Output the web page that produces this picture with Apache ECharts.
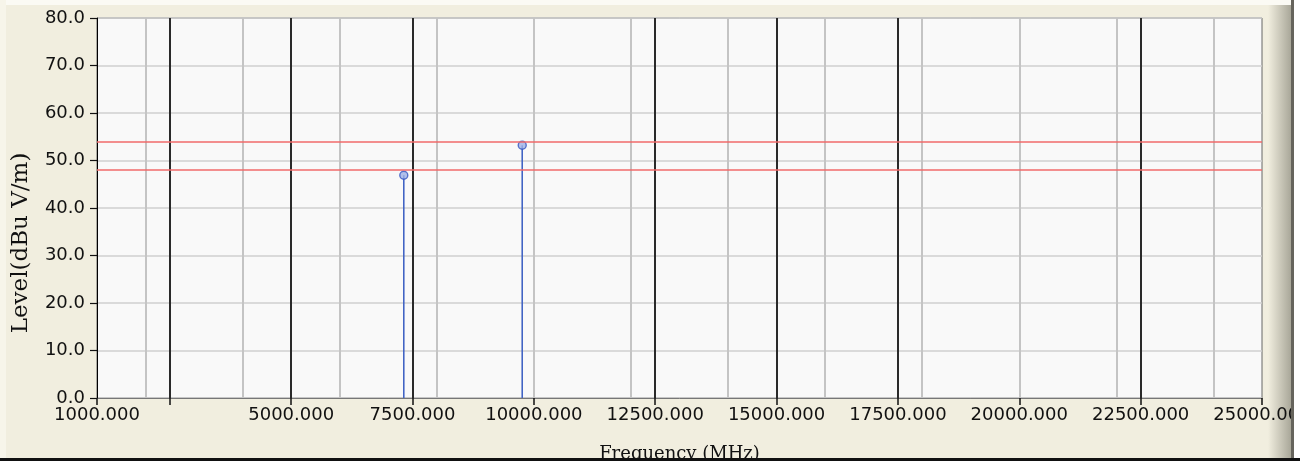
<!DOCTYPE html>
<html><head><meta charset="utf-8">
<script src="https://cdn.jsdelivr.net/npm/echarts@6/dist/echarts.min.js"></script>
<style>html,body{margin:0;padding:0;background:#f1eedf}#c{width:1300px;height:461px}</style>
</head><body><div id="c"></div>
<script>
const freqs = [7320, 9760];
const levels = [46.9, 53.2];
const limitLines = [54, 48];
const xLabelValues = [1000, 5000, 7500, 10000, 12500, 15000, 17500, 20000, 22500, 25000];
const xTickValues = [1000, 2500, 5000, 7500, 10000, 12500, 15000, 17500, 20000, 22500, 25000];
const majorGrid = [2500, 5000, 7500, 12500, 15000, 17500, 22500];
const minorGrid = [2000, 4000, 6000, 8000, 10000, 12000, 14000, 16000, 18000, 20000, 22000, 24000];

const chart = echarts.init(document.getElementById('c'));
const vline = v => ({xAxis: v});
chart.setOption({
  animation: false,
  backgroundColor: '#f1eedf',
  grid: {left: 97, right: 38, top: 18, bottom: 63, containLabel: false, outerBoundsMode: 'none',
    show: true, backgroundColor: '#f9f9f9', borderColor: '#666', borderWidth: 1},
  xAxis: {
    type: 'value', min: 1000, max: 25000,
    name: 'Frequency (MHz)', nameLocation: 'middle', nameGap: 47,
    nameTextStyle: {fontFamily: 'DejaVu Serif', fontSize: 18, color: '#111'},
    axisLine: {lineStyle: {color: '#777', width: 1}},
    axisTick: {show: true, length: 7, customValues: xTickValues, lineStyle: {color: '#111', width: 1.5}},
    axisLabel: {customValues: xLabelValues, margin: 8, fontFamily: 'DejaVu Sans', fontSize: 18, color: '#111',
      formatter: v => v.toFixed(3), showMinLabel: true, showMaxLabel: true, hideOverlap: false},
    splitLine: {show: false}
  },
  yAxis: {
    type: 'value', min: 0, max: 80, interval: 10,
    axisLine: {show: true, lineStyle: {color: '#000', width: 1}},
    axisTick: {show: true, length: 7, lineStyle: {color: '#111', width: 1.2}},
    axisLabel: {margin: 12, fontFamily: 'DejaVu Sans', fontSize: 18, color: '#111', formatter: v => v.toFixed(1)},
    splitLine: {show: true, lineStyle: {color: '#cfcfcf', width: 1.5}}
  },
  series: [
    {type: 'scatter', data: [], silent: true,
      markLine: {silent: true, symbol: ['none', 'none'], label: {show: false}, animation: false,
        lineStyle: {color: '#c4c4c4', width: 2, type: 'solid'}, data: minorGrid.map(vline)}},
    {type: 'scatter', data: [], silent: true,
      markLine: {silent: true, symbol: ['none', 'none'], label: {show: false}, animation: false,
        lineStyle: {color: '#2a2a2a', width: 2, type: 'solid'}, data: majorGrid.map(vline)}},
    {type: 'scatter', data: [], silent: true,
      markLine: {silent: true, symbol: ['none', 'none'], label: {show: false}, animation: false,
        lineStyle: {color: '#f06a6a', width: 1.6, type: 'solid'}, data: limitLines.map(v => ({yAxis: v}))}},
    {type: 'bar', barWidth: 1.6, itemStyle: {color: '#4264c4'}, silent: true,
      data: freqs.map((f, i) => [f, levels[i]])},
    {type: 'scatter', symbol: 'circle', symbolSize: 8, silent: true,
      itemStyle: {color: '#9fb2e6', borderColor: '#3656c0', borderWidth: 1.4},
      data: freqs.map((f, i) => [f, levels[i]])}
  ],
  graphic: [
    {type: 'rect', z: -10, shape: {x: 0, y: 0, width: 1300, height: 5}, style: {fill: '#fbfaf4'}},
    {type: 'rect', z: -10, shape: {x: 0, y: 0, width: 6, height: 461}, style: {fill: '#f7f5ea'}},
    {type: 'rect', z: -10, shape: {x: 1268, y: 5, width: 23, height: 453},
      style: {fill: new echarts.graphic.LinearGradient(0, 0, 1, 0, [{offset: 0, color: '#f1eedf'}, {offset: 1, color: '#a9a799'}])}},
    {type: 'rect', z: 100, shape: {x: 1291, y: 0, width: 3, height: 461}, style: {fill: '#66645c'}},
    {type: 'rect', z: 100, shape: {x: 1294, y: 0, width: 6, height: 461}, style: {fill: '#ffffff'}},
    {type: 'rect', z: 100, shape: {x: 0, y: 458, width: 1300, height: 3}, style: {fill: '#111111'}},
    {type: 'text', z: 50, x: 21, y: 243, rotation: Math.PI / 2,
      style: {text: 'Level(dBu V/m)', fontFamily: 'DejaVu Serif', fontSize: 23, fill: '#111', align: 'center', verticalAlign: 'middle'}}
  ]
});
</script>
</body></html>
